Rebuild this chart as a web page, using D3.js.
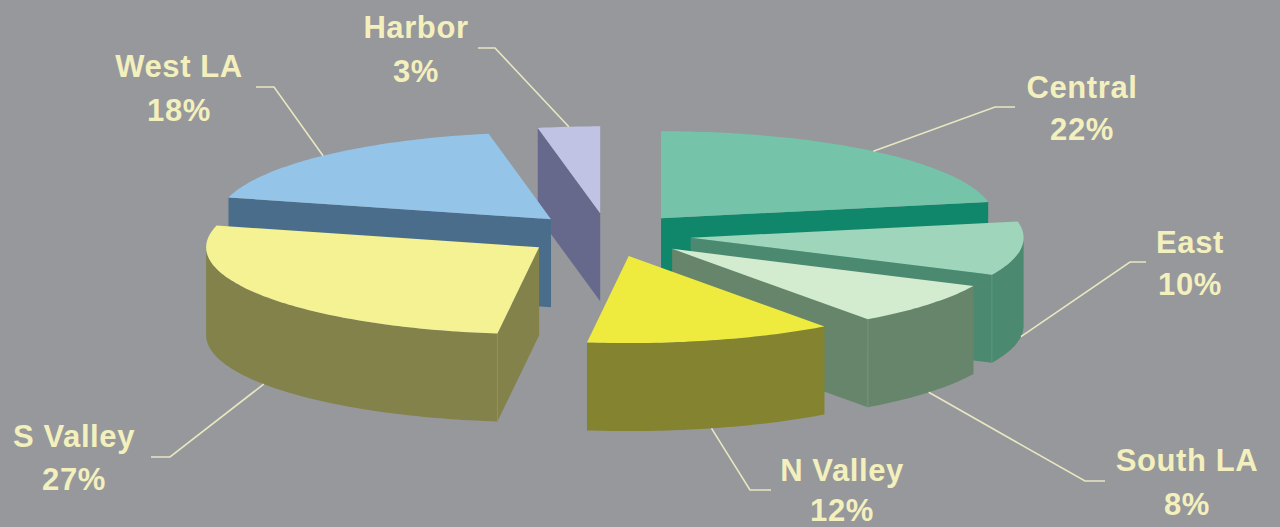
<!DOCTYPE html>
<html>
<head>
<meta charset="utf-8">
<script src="https://cdn.jsdelivr.net/npm/d3@7"></script>
<style>
  html, body { margin: 0; padding: 0; background: #96989c; }
  svg { display: block; }
  .lbl { font-family: "Liberation Sans", Arial, sans-serif; font-weight: bold; font-size: 31px; fill: #f3f0bd; letter-spacing: 0.6px; }
</style>
</head>
<body>
<svg id="chart" width="1280" height="527"></svg>
<script>
// Share of cases by area (percent)
const categories = ["Central", "East", "South LA", "N Valley", "S Valley", "West LA", "Harbor"];
const shares = [22, 10, 8, 12, 27, 18, 3];

// Face colours for each area: top surface and side walls
const topColors  = ["#75c4a9", "#9fd5ba", "#d3ebce", "#efea3e", "#f4f293", "#94c5e8", "#c0c3e3"];
const sideColors = ["#10876a", "#4b8a70", "#67856b", "#84832f", "#82824a", "#4a6d8b", "#66698b"];

// Label placement: text centre/baseline, leader start and elbow
const labelLayout = {
  "Central":  { x: 1082, y: 98,  gap: 42, start: [1015, 107], elbow: [995, 107] },
  "East":     { x: 1190, y: 253, gap: 42, start: [1146, 262], elbow: [1130, 262] },
  "South LA": { x: 1187, y: 471, gap: 44, start: [1105, 481], elbow: [1085, 481] },
  "N Valley": { x: 842,  y: 481, gap: 40, start: [771, 490],  elbow: [750, 490] },
  "S Valley": { x: 74,   y: 447, gap: 43, start: [151, 457],  elbow: [170, 457] },
  "West LA":  { x: 179,  y: 77,  gap: 44, start: [256, 87],   elbow: [274, 87] },
  "Harbor":   { x: 416,  y: 38,  gap: 44, start: [478, 48],   elbow: [495, 48] }
};

const svg = d3.select("#chart");
svg.append("rect").attr("width", 1280).attr("height", 527).attr("fill", "#96989c");

// Tilted pie geometry
const cx0 = 608, cy0 = 235;   // pie centre before explosion
const rx = 333, ry = 87;      // projected radii
const depth = 88;             // wall height
const explode = 0.25;         // slice offset as a fraction of the radius

const total = d3.sum(shares);
const pie = d3.pie().sort(null).value(d => d.value).startAngle(0).endAngle(2 * Math.PI);
const arcs = pie(categories.map((c, i) => ({ name: c, value: shares[i], i })));

const proj = (c, a, r, h) => [c[0] + r * rx * Math.sin(a), c[1] - r * ry * Math.cos(a) + h];

function rim(c, a0, a1, h) {
  const n = Math.max(2, Math.ceil((a1 - a0) / (Math.PI / 180)));
  return d3.range(n + 1).map(k => proj(c, a0 + (a1 - a0) * k / n, 1, h));
}

const line = d3.line();

const slices = arcs.map(a => {
  const mid = (a.startAngle + a.endAngle) / 2;
  const c = [cx0 + explode * rx * Math.sin(mid), cy0 - explode * ry * Math.cos(mid)];
  return { ...a, mid, c };
});

// Paint back-to-front
const order = slices.slice().sort((p, q) => p.c[1] - q.c[1]);

const g = svg.append("g");
order.forEach(s => {
  const i = s.data.i;
  const a0 = s.startAngle, a1 = s.endAngle;
  const grp = g.append("g").attr("class", "slice");
  const edges = [];

  // Radial cut faces facing the viewer
  const cutFace = a => {
    const p0 = proj(s.c, a, 0, 0), p1 = proj(s.c, a, 1, 0);
    const p2 = proj(s.c, a, 1, depth), p3 = proj(s.c, a, 0, depth);
    grp.append("path").attr("d", line([p0, p1, p2, p3]) + "Z")
      .attr("fill", sideColors[i]);
    edges.push([p1, p2]);
  };
  const startVisible = Math.sin(a0) < -1e-6;
  const endVisible = Math.sin(a1) > 1e-6;
  if (startVisible) cutFace(a0);
  if (endVisible) cutFace(a1);

  // Outer wall: the part that faces the front (angles between 90° and 270°)
  const w0 = Math.max(a0, Math.PI / 2), w1 = Math.min(a1, 3 * Math.PI / 2);
  const hasWall = w1 > w0;
  if (hasWall) {
    const topEdge = rim(s.c, w0, w1, 0);
    const botEdge = rim(s.c, w0, w1, depth).reverse();
    grp.append("path").attr("d", line(topEdge.concat(botEdge)) + "Z")
      .attr("fill", sideColors[i]);
  }

  // Faint crease where a cut face meets the curved wall
  if (hasWall) {
    edges.forEach(e => {
      grp.append("path").attr("d", line(e))
        .attr("stroke", d3.color(sideColors[i]).brighter(0.5))
        .attr("stroke-width", 1).attr("stroke-opacity", 0.6);
    });
  }

  // Top face
  const topPts = [proj(s.c, a0, 0, 0)].concat(rim(s.c, a0, a1, 0));
  grp.append("path").attr("d", line(topPts) + "Z").attr("fill", topColors[i]);
});

// Leader lines and labels
const fmt = v => Math.round(v / total * 100) + "%";
slices.forEach(s => {
  const L = labelLayout[s.data.name];
  const front = Math.cos(s.mid) < 0;
  const anchor = proj(s.c, s.mid, 1, front ? depth : 0);
  svg.append("path")
    .attr("d", line([L.start, L.elbow, anchor]))
    .attr("fill", "none")
    .attr("stroke", "#e9e6c2")
    .attr("stroke-width", 1.6);

  const t = svg.append("text").attr("class", "lbl").attr("text-anchor", "middle");
  t.append("tspan").attr("x", L.x).attr("y", L.y).text(s.data.name);
  t.append("tspan").attr("x", L.x).attr("y", L.y + L.gap).text(fmt(s.data.value));
});
</script>
</body>
</html>
